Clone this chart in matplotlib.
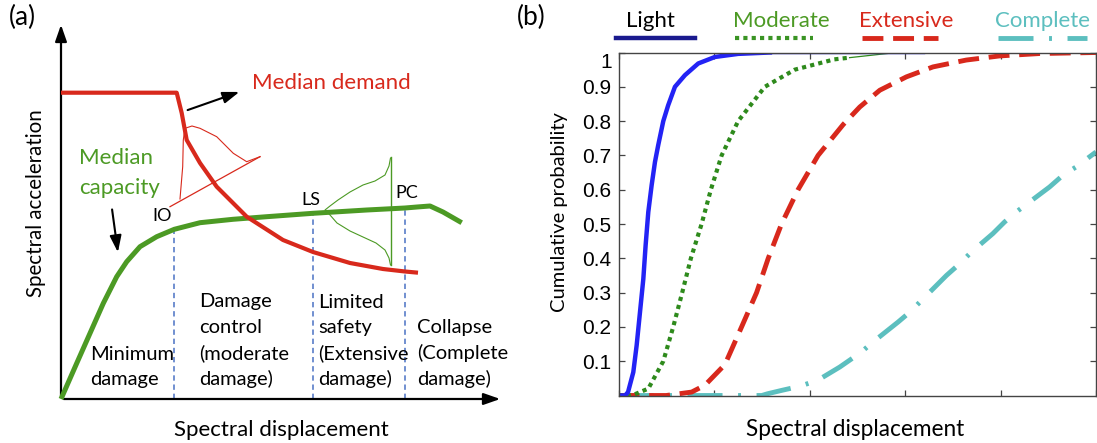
import numpy as np
import matplotlib
matplotlib.use("Agg")
import matplotlib.pyplot as plt
from matplotlib.lines import Line2D
from matplotlib.transforms import ScaledTranslation

# ---------------- panel (a): schematic, units ----------------
capacity_x = [0, 15.7, 29, 42.3, 55.7, 65.7, 79, 95.7, 113.3, 139, 172, 205.7, 252, 305.7, 344, 356, 369, 382, 400.7]
capacity_y = [0, 35.7, 65.7, 95.7, 122.3, 137.3, 152.3, 162.3, 169.7, 176.3, 179.7, 182.3, 185.7, 189, 191, 192, 193, 187, 176.3]

demand_x = [0, 115.7, 120.7, 125.7, 139, 155.7, 185.7, 222, 252, 289, 322, 344, 357]
demand_y = [306.3, 306.3, 286, 259, 236, 212.3, 182.3, 159, 147, 136, 130, 127.5, 126.3]

demand_pdf_x = [119, 121.7, 122.3, 124, 131, 139, 155.7, 172.3, 185.7, 199]
demand_pdf_y = [200, 232.3, 259, 270.7, 273, 270.7, 262.3, 245.7, 237.3, 242.3]
demand_base_x = [109, 199]
demand_base_y = [192.3, 242.3]

capacity_pdf_x = [329.5, 328, 324, 314, 302, 289, 277, 269, 264, 269, 276, 289, 302, 315, 324, 328, 329.5]
capacity_pdf_y = [241, 233, 224, 218, 214, 207, 199, 193, 189, 184, 176, 168, 162, 156, 149, 141, 134]
capacity_base_x = [329.5, 329.5]
capacity_base_y = [242.3, 134]

state_x = [113.3, 252, 344]          # IO, LS, PC
state_names = ["IO", "LS", "PC"]
state_label_xy = [(101, 183), (250, 199), (346, 206)]

region_lines = [["Minimum", "damage"],
                ["Damage", "control", "(moderate", "damage)"],
                ["Limited", "safety", "(Extensive", "damage)"],
                ["Collapse", "(Complete", "damage)"]]
region_x = [29, 138, 257, 356]
region_line_y = [[44, 19], [97, 71.3, 45.7, 20], [97, 71.3, 45.7, 20], [71.3, 45.7, 20]]

# ---------------- panel (b): fragility curves ----------------
light_x = [0, 0.07, 0.10, 0.155, 0.19, 0.225, 0.26, 0.284, 0.312, 0.347, 0.382, 0.416,
           0.469, 0.52, 0.591, 0.696, 0.835, 1.01, 1.253, 1.585]
light_y = [0, 0, 0.01, 0.068, 0.146, 0.243, 0.34, 0.438, 0.535, 0.613, 0.681, 0.73,
           0.8, 0.846, 0.9, 0.934, 0.968, 0.987, 0.996, 1.0]
light_tail_x = [1.585, 3.2]
light_tail_y = [1.0, 1.0]

moderate_x = [0, 0.14, 0.312, 0.469, 0.573, 0.667, 0.758, 0.87, 0.967, 1.08, 1.253,
              1.532, 1.846, 2.26, 2.42]
moderate_y = [0, 0, 0.02, 0.1, 0.2, 0.3, 0.4, 0.5, 0.6, 0.7, 0.8, 0.9, 0.95, 0.98, 0.985]
moderate_tail_x = [2.42, 2.91, 5.0]
moderate_tail_y = [0.985, 1.0, 1.0]

extensive_x = [0, 0.5, 0.766, 0.905, 1.114, 1.289, 1.446, 1.568, 1.707, 1.88, 2.09,
               2.353, 2.526, 2.736, 3.015, 3.293, 3.642, 3.99, 4.41, 5.0]
extensive_y = [0, 0, 0.01, 0.03, 0.09, 0.2, 0.3, 0.4, 0.5, 0.6, 0.7, 0.79, 0.841,
               0.89, 0.929, 0.958, 0.978, 0.99, 0.997, 1.0]

complete_x = [0, 1.5, 1.56, 1.71, 1.9, 2.09, 2.317, 2.54, 2.665, 2.927, 3.05, 3.172,
              3.434, 3.572, 3.694, 3.92, 4.043, 4.165, 4.514, 4.653, 4.79, 5.0]
complete_y = [0, 0, 0.005, 0.015, 0.027, 0.045, 0.083, 0.126, 0.156, 0.214, 0.243,
              0.277, 0.35, 0.384, 0.418, 0.472, 0.506, 0.535, 0.608, 0.642, 0.666, 0.71]

legend_names = ["Light", "Moderate", "Extensive", "Complete"]
yticks = [0.1, 0.2, 0.3, 0.4, 0.5, 0.6, 0.7, 0.8, 0.9, 1.0]
ytick_labels = ["0.1", "0.2", "0.3", "0.4", "0.5", "0.6", "0.7", "0.8", "0.9", "1"]

RED = "#d8291c"
GREEN = "#4c9a24"
DBLUE = "#4a72c4"
LBL = "Lato"
W, H = 1097, 443

fig = plt.figure(figsize=(W / 100, H / 100), dpi=100)

# ---- (a)
ax = fig.add_axes([0, 0, 520 / W, 1])
ax.set_xlim(-61, 459)
ax.set_ylim(-44, 399)
ax.axis("off")

head = "-|>,head_length=1.0,head_width=0.35"
ax.annotate("", xy=(0, 377), xytext=(0, 0), arrowprops=dict(arrowstyle=head, color="black", lw=1.6))
ax.annotate("", xy=(442, 0), xytext=(0, 0), arrowprops=dict(arrowstyle=head, color="black", lw=1.6))

for sx in state_x:
    ax.plot([sx, sx], [0, np.interp(sx, capacity_x, capacity_y)], color=DBLUE, lw=1.1,
            ls=(0, (3.5, 2.5)))

ax.plot(demand_base_x, demand_base_y, color=RED, lw=0.9)
ax.plot(demand_pdf_x, demand_pdf_y, color=RED, lw=0.8)
ax.plot(capacity_base_x, capacity_base_y, color=GREEN, lw=1.0)
ax.plot(capacity_pdf_x, capacity_pdf_y, color=GREEN, lw=0.8)
ax.plot(demand_x, demand_y, color=RED, lw=3.0, solid_capstyle="butt", zorder=4)
ax.plot(capacity_x, capacity_y, color=GREEN, lw=3.6, solid_capstyle="butt", zorder=3)

ax.annotate("", xy=(181, 308), xytext=(124, 288),
            arrowprops=dict(arrowstyle=head, color="black", lw=1.5))
ax.annotate("", xy=(57.3, 144), xytext=(50.7, 192.3),
            arrowprops=dict(arrowstyle=head, color="black", lw=1.5))

ax.text(191, 316, "Median demand", color=RED, fontsize=16, family=LBL, ha="left", va="center")
ax.text(18, 241, "Median", color=GREEN, fontsize=16, family=LBL, ha="left", va="center")
ax.text(18, 211, "capacity", color=GREEN, fontsize=16, family=LBL, ha="left", va="center")
for name, (tx, ty) in zip(state_names, state_label_xy):
    ax.text(tx, ty, name, fontsize=13, family=LBL, ha="center", va="center")
for lines, rx, ys in zip(region_lines, region_x, region_line_y):
    for txt, ty in zip(lines, ys):
        ax.text(rx, ty, txt, fontsize=14.5, family=LBL, ha="left", va="center")

ax.text(220.7, -31, "Spectral displacement", fontsize=16, family=LBL, ha="center", va="center")
ax.text(-25, 196, "Spectral acceleration", fontsize=14.8, family=LBL, ha="center", va="center",
        rotation=90)
fig.text(22 / W, 1 - 17 / H, "(a)", fontsize=19, family=LBL, ha="center", va="center")
fig.text(531 / W, 1 - 17 / H, "(b)", fontsize=19, family=LBL, ha="center", va="center")

# ---- (b)
bx = fig.add_axes([618.5 / W, 1 - 395.5 / H, (1096 - 618.5) / W, (395.5 - 52.5) / H])
bx.set_xlim(0, 5)
bx.set_ylim(0, 1)

styles = [
    dict(color="#2323f5", lw=3.2, ls="-"),
    dict(color="#2e8a1c", lw=3.0, ls=(0, (1, 1))),
    dict(color="#d8281c", lw=3.5, ls=(0, (4.3, 2.0))),
    dict(color="#5cbfbf", lw=3.5, ls=(0, (7.2, 3.2, 0.6, 3.2))),
]
bx.plot(complete_x, complete_y, **styles[3])
bx.plot(extensive_x, extensive_y, **styles[2])
bx.plot(moderate_tail_x, moderate_tail_y, color=styles[1]["color"], lw=0.9)
bx.plot(moderate_x, moderate_y, **styles[1])
bx.plot(light_tail_x, light_tail_y, color=styles[0]["color"], lw=1.0)
bx.plot(light_x, light_y, **styles[0])

bx.set_xticks(np.arange(0, 6))
bx.set_xticklabels([])
bx.set_yticks(yticks)
bx.set_yticklabels(ytick_labels)
bx.tick_params(direction="in", length=4, width=0.9, top=True, right=True, color="#444444", pad=5)
for lbl in bx.get_yticklabels():
    lbl.set_fontfamily("Liberation Sans")
    lbl.set_fontsize(15)
for sp in bx.spines.values():
    sp.set_color("#444444")
    sp.set_linewidth(1.0)
top_lbl = bx.get_yticklabels()[-1]
top_lbl.set_transform(top_lbl.get_transform() + ScaledTranslation(0, -8 / 100, fig.dpi_scale_trans))

bx.set_xlabel("Spectral displacement", fontsize=16.3, family=LBL, va="center")
bx.xaxis.set_label_coords(0.5 + (855.5 - 857.25) / 477.5, -(430 - 395.5) / 343)
bx.set_ylabel("Cumulative probability", fontsize=14.5, family=LBL, va="center")
bx.yaxis.set_label_coords(-(618.5 - 559) / 477.5, (395.5 - 212) / 343)

# legend drawn above the axes: text over a line sample
legend_line_px = [(616, 695), (735, 813), (862, 938), (998, 1087)]
legend_text_px = [650, 781, 906, 1043]
legend_colors_text = ["black", "#4c9a24", "#d8291c", "#5cbfbf"]
legend_line_colors = ["#1a1a8e", "#3a9424", "#d8281c", "#5cbfbf"]
for name, (x0, x1), tx, tc, lc, st in zip(legend_names, legend_line_px, legend_text_px,
                                          legend_colors_text, legend_line_colors, styles):
    fig.text(tx / W, 1 - 21 / H, name, fontsize=16, family=LBL, color=tc, ha="center", va="center")
    fig.add_artist(Line2D([x0 / W, x1 / W], [1 - 38 / H, 1 - 38 / H], color=lc, lw=st["lw"],
                          ls=st["ls"], transform=fig.transFigure))

fig.savefig("out.png", dpi=100)
